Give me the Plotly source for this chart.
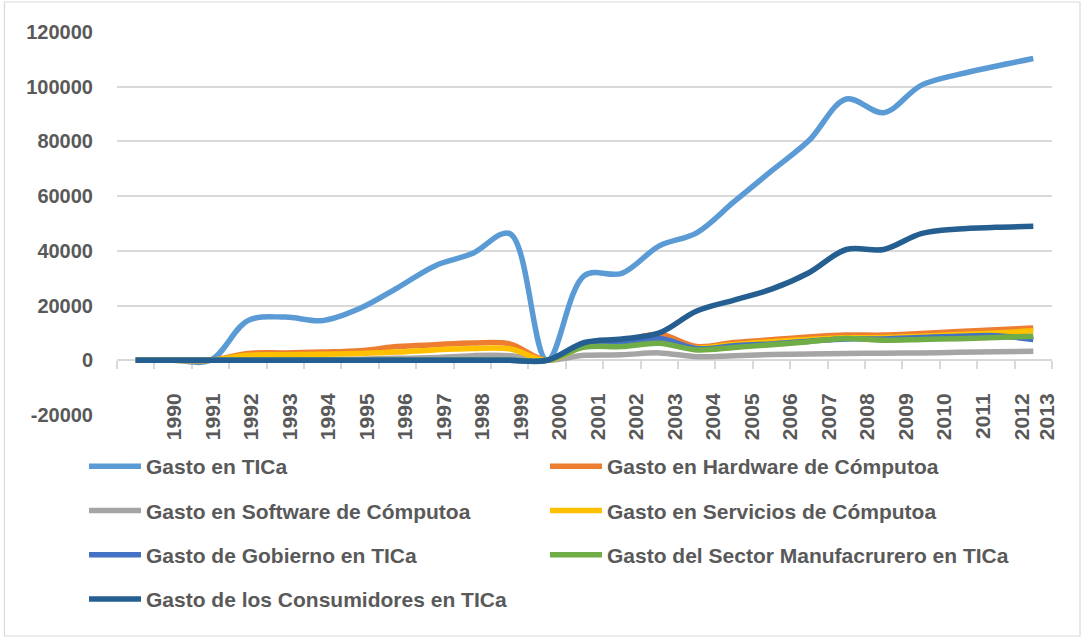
import plotly.graph_objects as go

# ---- data ----
periods = list(range(25))
year_labels = ["1990", "1991", "1992", "1993", "1994", "1995", "1996", "1997",
               "1998", "1999", "2000", "2001", "2002", "2003", "2004", "2005",
               "2006", "2007", "2008", "2009", "2010", "2011", "2012", "2013"]
# positions (in period units) where the year labels sit in the reference
label_pos = [1.03, 2.06, 3.09, 4.12, 5.15, 6.18, 7.21, 8.24, 9.27, 10.30, 11.33,
             12.36, 13.39, 14.42, 15.45, 16.48, 17.51, 18.54, 19.57, 20.60,
             21.63, 22.66, 23.69, 24.38]
y_ticks = [-20000, 0, 20000, 40000, 60000, 80000, 100000, 120000]
y_tick_text = ["-20000", "0", "20000", "40000", "60000", "80000", "100000", "120000"]

series_names = [
    "Gasto en TICa",
    "Gasto en Hardware de Cómputoa",
    "Gasto en Software de Cómputoa",
    "Gasto en Servicios de Cómputoa",
    "Gasto de Gobierno en TICa",
    "Gasto del Sector Manufacrurero en TICa",
    "Gasto de los Consumidores en TICa",
]
tica = [0, 0, 0, 14500, 15800, 14500, 19000, 26500, 34500, 39000, 46300, 0,
        31000, 31800, 41800, 46600, 58000, 69200, 80300, 95500, 90500, 100500,
        104500, 107500, 110300]
hardware = [0, 0, 0, 2500, 2700, 3000, 3500, 5000, 5700, 6300, 6000, 0,
            6000, 7000, 9500, 5000, 6500, 7500, 8500, 9200, 9200, 9800,
            10500, 11200, 11800]
software = [0, 0, 0, 0, 0, 200, 400, 700, 1000, 1700, 1700, 0,
            1800, 2000, 2700, 1300, 1700, 2100, 2300, 2500, 2600, 2700,
            2900, 3100, 3300]
servicios = [0, 0, 0, 1800, 2000, 2200, 2500, 3000, 3800, 4300, 4200, 0,
             5000, 5500, 7000, 4500, 5800, 6800, 7600, 8200, 8300, 8800,
             9400, 10000, 10800]
gobierno = [0, 0, 0, 0, 0, 0, 0, 0, 0, 0, 0, 0,
            5500, 6000, 8000, 4300, 5300, 6000, 7000, 7800, 7800, 8300,
            8800, 9000, 7600]
manufactura = [0, 0, 0, 0, 0, 0, 0, 0, 0, 0, 0, 0,
               4800, 5000, 6200, 3800, 4700, 5700, 6800, 8000, 7300, 7600,
               7900, 8300, 8800]
consumidores = [0, 0, 0, 0, 0, 0, 0, 0, 0, 0, 0, 0,
                6500, 7800, 10000, 18000, 22000, 26000, 32000, 40500, 40500,
                46300, 48000, 48600, 49000]

values = [tica, hardware, software, servicios, gobierno, manufactura, consumidores]
colors = ["#5B9BD5", "#ED7D31", "#A5A5A5", "#FFC000", "#4472C4", "#70AD47", "#255E91"]
legend_of = ["legend", "legend2", "legend", "legend2", "legend", "legend2", "legend"]

TXT = "#595959"
GRID = "#D9D9D9"
FONT = "Liberation Sans"

fig = go.Figure()
for name, vals, col, lg in zip(series_names, values, colors, legend_of):
    fig.add_trace(go.Scatter(
        x=periods, y=vals, name=name, mode="lines",
        line=dict(color=col, width=5.5, shape="spline", smoothing=1.0),
        legend=lg, legendgroup=name, hoverinfo="skip",
    ))

W, H = 1081, 637
L, R, T, B = 117, 29, 32, 222
pw, ph = W - L - R, H - T - B

def px_x(px):
    return (px - L) / pw

def px_y(py):
    return (H - B - py) / ph

legend_font = dict(family=FONT, size=21, color=TXT, weight="bold")

fig.update_layout(
    width=W, height=H,
    margin=dict(l=L, r=R, t=T, b=B, autoexpand=False),
    paper_bgcolor="white", plot_bgcolor="white",
    showlegend=True,
    xaxis=dict(
        range=[-0.5, 24.5],
        tickmode="array", tickvals=label_pos, ticktext=year_labels,
        tickangle=-90, ticks="", showgrid=False, zeroline=False,
        showline=True, linecolor=GRID, linewidth=1.5, layer="below traces",
        anchor="free", position=20000 / 140000,
        tickfont=dict(family=FONT, size=21, color=TXT, weight="bold"),
        ticklabelstandoff=24,
        minor=dict(tickmode="linear", tick0=-0.5, dtick=1, ticks="outside",
                   ticklen=8, tickcolor=GRID, tickwidth=1.5, showgrid=False),
        fixedrange=True,
    ),
    yaxis=dict(
        range=[-20000, 120000], tickmode="array", tickvals=y_ticks,
        ticktext=y_tick_text,
        showgrid=True, gridcolor=GRID, gridwidth=1.5, zeroline=False,
        showline=False, ticks="", layer="below traces",
        tickfont=dict(family=FONT, size=20, color=TXT, weight="bold"),
        ticklabelstandoff=23,
        domain=[0, 1], fixedrange=True,
    ),
    legend=dict(
        x=px_x(84), y=px_y(446), xanchor="left", yanchor="top",
        orientation="v", traceorder="grouped", tracegroupgap=14,
        font=legend_font, itemwidth=52, bgcolor="rgba(0,0,0,0)",
    ),
    legend2=dict(
        x=px_x(545), y=px_y(446), xanchor="left", yanchor="top",
        orientation="v", traceorder="grouped", tracegroupgap=14,
        font=legend_font, itemwidth=52, bgcolor="rgba(0,0,0,0)",
    ),
    shapes=[dict(type="rect", xref="paper", yref="paper",
                 x0=px_x(4.5), x1=px_x(1080), y0=px_y(636), y1=px_y(2),
                 line=dict(color=GRID, width=1.2), fillcolor="rgba(0,0,0,0)",
                 layer="below")],
)

fig.write_html(
    "out.html",
    config={"displayModeBar": False},
    post_script="document.body.style.margin='0';document.body.style.overflow='hidden';",
)
